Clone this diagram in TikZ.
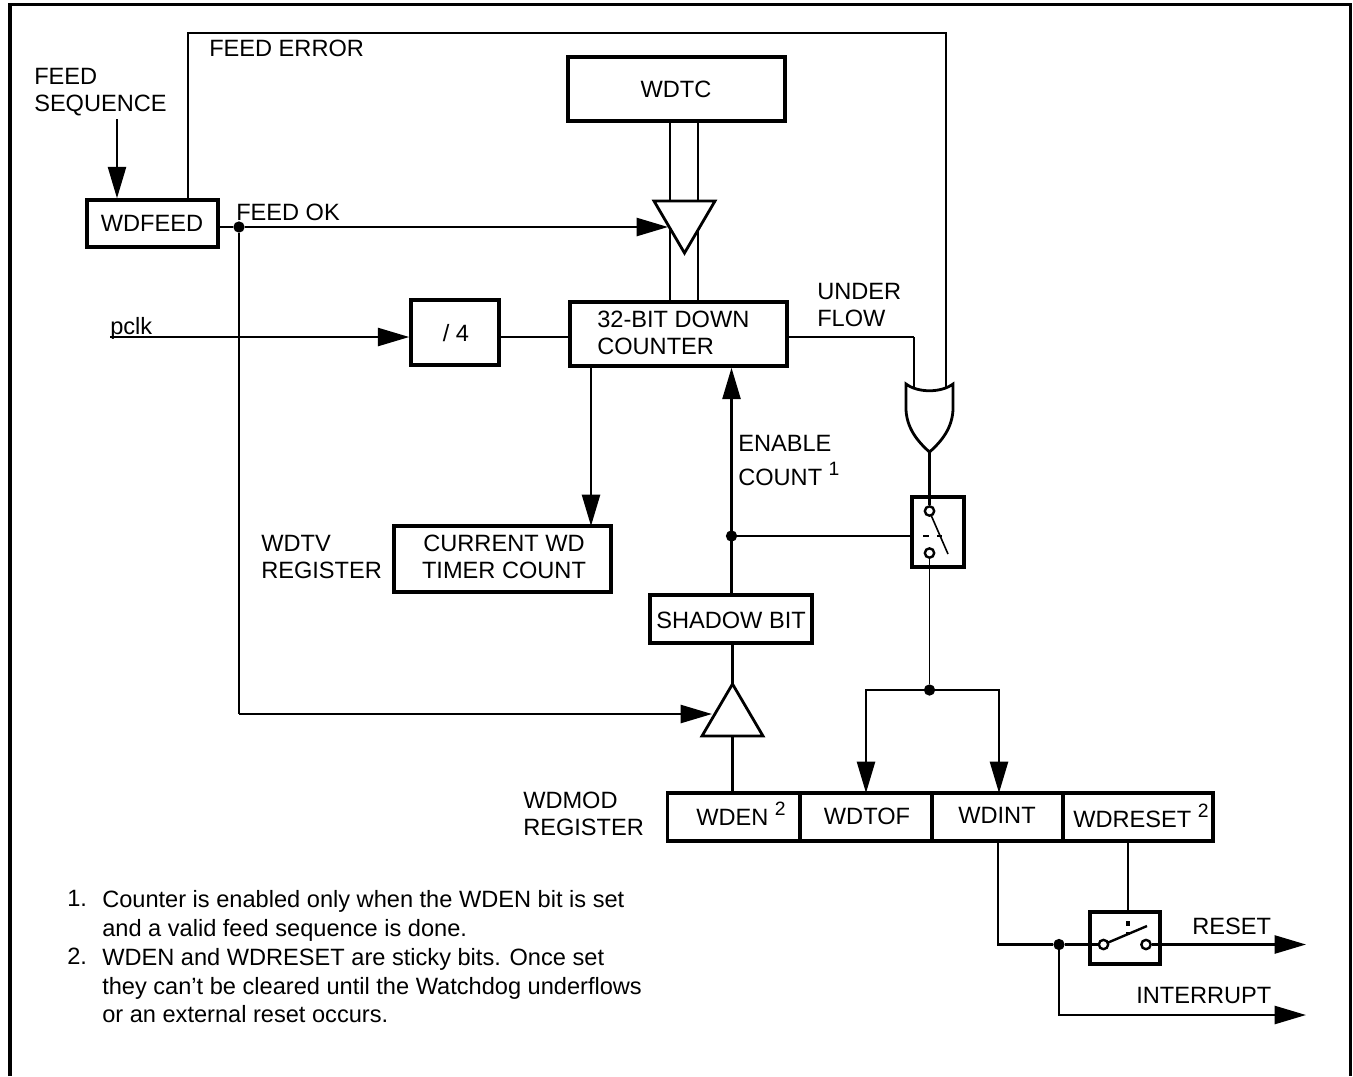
\documentclass[tikz,border=0pt]{standalone}
\usepackage{fontspec}
\setmainfont{Liberation Sans}
\usetikzlibrary{arrows.meta}
\tikzset{
 boxn/.style={draw=black,line width=2.6pt,rectangle,inner sep=0pt,fill=white,text=black},
 lbl/.style={inner sep=0pt,anchor=north west,align=left,font=\fontsize{17.7}{20.25}\selectfont},
 lblb/.style={inner sep=0pt,anchor=base west,font=\fontsize{17.7}{20.25}\selectfont},
 lblc/.style={inner sep=0pt,align=center,font=\fontsize{17.7}{20.25}\selectfont},
 note/.style={inner sep=0pt,anchor=north west,align=left,font=\fontsize{17.7}{21.5}\selectfont},
 wire/.style={line width=1.8pt,line join=miter},
 thin wire/.style={line width=1.3pt},
 arr/.style={wire,-{Triangle[length=23.5pt,width=13.5pt]}},
 gate/.style={draw=black,line width=2.1pt,fill=white,line join=miter},
 contact/.style={circle,draw=black,line width=1.8pt,fill=white,minimum size=7pt,inner sep=0pt},
 junction/.style={circle,fill=black,minimum size=8.5pt,inner sep=0pt},
}
\newcommand{\sq}[1]{\raisebox{7pt}{\fontsize{14.5}{16}\selectfont #1}}
\begin{document}
\begin{tikzpicture}[x=0.75pt,y=-0.75pt]
\useasboundingbox (0,0) rectangle (1353,1076);
% frame
\draw[line width=2.6pt] (10,1076) -- (10,4.5) -- (1350.5,4.5) -- (1350.5,1076);
% boxes
\node[boxn,minimum width=162.75pt,minimum height=48pt] (wdtc) at (676.5,89) {};
\node[boxn,minimum width=98.25pt,minimum height=35.25pt] (wdfeed) at (152.5,223.5) {};
\node[boxn,minimum width=66pt,minimum height=48.75pt] (div) at (455,332.5) {};
\node[boxn,minimum width=162.75pt,minimum height=48pt] (counter) at (678.5,334) {};
\node[boxn,minimum width=162.75pt,minimum height=49.5pt] (current) at (502.5,559) {};
\node[boxn,minimum width=121.5pt,minimum height=36pt] (shadow) at (731,619) {};
\node[boxn,minimum width=99.75pt,minimum height=36pt] (wden) at (734,817) {};
\node[boxn,minimum width=99pt,minimum height=36pt] (wdtof) at (866,817) {};
\node[boxn,minimum width=98.25pt,minimum height=36pt] (wdint) at (997.5,817) {};
\node[boxn,minimum width=112.5pt,minimum height=36pt] (wdreset) at (1138,817) {};
\node[boxn,minimum width=39pt,minimum height=52.5pt] (sw1) at (938,532) {};
\node[boxn,minimum width=52.5pt,minimum height=39pt] (sw2) at (1125,938) {};
% coordinates
\coordinate (tl) at (654,201); \coordinate (tr) at (715,201); \coordinate (ta) at (684.5,253);
\coordinate (bl) at (702,736); \coordinate (br) at (763,736); \coordinate (ba) at (732.5,684);
\coordinate (orl) at (906,384); \coordinate (orr) at (953,384); \coordinate (ora) at (929.5,452);
\coordinate (orin1) at (914,388); \coordinate (orin2) at (946,388);
\node[contact] (c1) at (929.5,511) {};
\node[contact] (c2) at (929.5,553) {};
\node[contact] (c3) at (1103.5,944.5) {};
\node[contact] (c4) at (1146,944.5) {};
\node[junction] (jok) at (239,227) {};
\node[junction] (jen) at (731.5,536) {};
\node[junction] (jsw) at (929.5,690) {};
\node[junction] (jint) at (1059,944.5) {};
\coordinate (feedtop) at (117,119);
\coordinate (pclkin) at (110,337);
\coordinate (resetout) at (1306,944.5);
\coordinate (intout) at (1306,1015);
% bus lines behind triangle
\draw[wire] (670,121) -- (670,302) (698,121) -- (698,302);
% triangles
\draw[gate] (tl) -- (tr) -- (ta) -- cycle;
\draw[gate] (bl) -- (br) -- (ba) -- cycle;
% or gate wires and gate
\draw[wire] (counter.east |- 0,337) -- (914,337);
\draw[thin wire] (914,337) -- (orin1);
\draw[wire] (188,200) -- (188,33) -- (946,33) -- (orin2);
\draw[gate] (orl) .. controls (918,393) and (941,393) .. (orr)
  -- (953,410) .. controls (952,428) and (942,441) .. (ora)
  .. controls (917,441) and (907,428) .. (906,410) -- cycle;
% wires
\draw[arr] (feedtop) -- (wdfeed.north -| feedtop);
\draw[wire] (wdfeed.east |- jok) -- (jok);
\draw[arr] (jok) -- (668,227);
\draw[thin wire] (jok) -- (239,714);
\draw[arr] (239,714) -- (712,714);
\draw[arr] (pclkin) -- (div.west |- pclkin);
\draw[wire] (div.east |- 0,337) -- (counter.west |- 0,337);
\draw[arr] (591,366) -- (591,526);
\draw[arr] (shadow.north -| jen) -- (counter.south -| jen);
\draw[wire] (jen) -- (sw1.west |- jen);
\draw[line width=2pt] (923,536) -- (929,536) (937,536) -- (942,536);
\draw[wire] (ora) -- (c1);
\draw[line width=1.2pt] (931,515) -- (948,554);
\draw[thin wire] (c2) -- (jsw);
\draw[arr] (jsw) -- (866,690) -- (866,793);
\draw[arr] (jsw) -- (999,690) -- (999,793);
\draw[wire] (shadow.south -| ba) -- (ba);
\draw[wire] (732.5,736) -- (wden.north -| ba);
\draw[wire] (998,841) -- (998,944.5) -- (jint);
\draw[wire] (jint) -- (c3);
\draw[wire] (1107,943) -- (1147,926);
\draw[wire] (1128,841) -- (1128,911);
\draw[line width=2.6pt] (1128,921) -- (1128,926) (1128,932) -- (1128,935);
\draw[arr] (c4) -- (resetout);
\draw[arr] (jint) -- (1059,1015) -- (intout);
% labels
\node[lbl] (tfeed) at (34,68) {FEED\\SEQUENCE};
\node[lbl] (terr) at (209,40) {FEED ERROR};
\node[lblc,anchor=base] (twdtc) at (676,97) {WDTC};
\node[lblc,anchor=base] (twdfeed) at (152,231) {WDFEED};
\node[lbl] (tok) at (236,204) {FEED OK};
\node[lbl] (tpclk) at (110,317) {pclk};
\node[lblc,anchor=base] (tdiv) at (456,341) {/ 4};
\node[lbl] (tcnt) at (597,311) {32-BIT DOWN\\COUNTER};
\node[lbl] (tunder) at (817,283) {UNDER\\FLOW};
\node[lbl] (ten) at (738,435) {ENABLE};
\node[lblb] (tco) at (738,485) {COUNT \sq{1}};
\node[lbl] (twdtv) at (261,535) {WDTV\\REGISTER};
\node[lblc,anchor=north] (tcur) at (504,535) {CURRENT WD\\TIMER COUNT};
\node[lblc,anchor=base] (tsh) at (731,628) {SHADOW BIT};
\node[lbl] (tmod) at (523,792) {WDMOD\\REGISTER};
\node[lblb] (twden) at (696,825) {WDEN \sq{2}};
\node[lblc,anchor=base] (ttof) at (867,824) {WDTOF};
\node[lblc,anchor=base] (tint) at (997,823) {WDINT};
\node[lblb] (trst) at (1073,827) {WDRESET \sq{2}};
\node[lbl] (treset) at (1192,918) {RESET};
\node[lbl] (tintr) at (1136,987) {INTERRUPT};
\node[note] (n1) at (67,890) {1.};
\node[note] (n1t) at (102,890) {Counter is enabled only when the WDEN bit is set\\and a valid feed sequence is done.};
\node[note] (n2) at (67,948) {2.};
\node[note] (n2t) at (102,948) {WDEN and WDRESET are sticky bits. Once set\\they can’t be cleared until the Watchdog underflows\\or an external reset occurs.};
\end{tikzpicture}
\end{document}
